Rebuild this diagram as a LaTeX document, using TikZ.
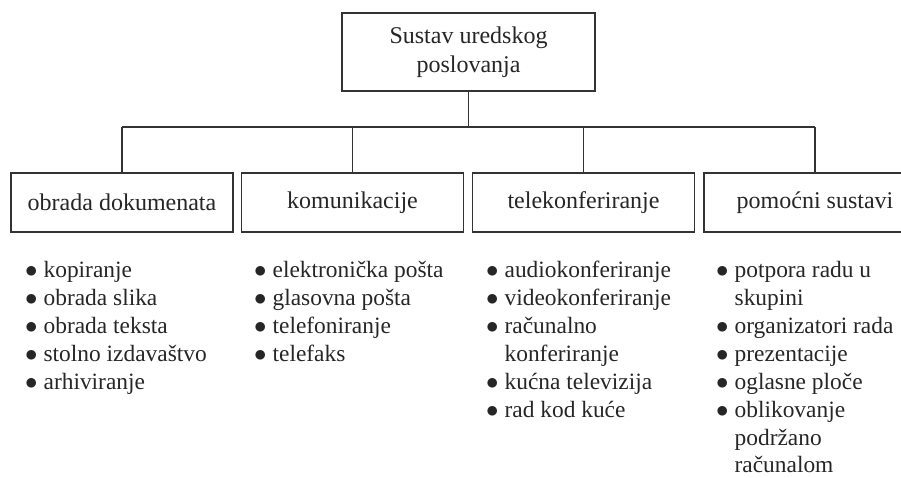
\documentclass[tikz,border=0pt]{standalone}
\usepackage{fontspec}
\setmainfont{Liberation Serif}
\usetikzlibrary{positioning}

\begin{document}
\begin{tikzpicture}[x=1pt,y=-1pt,
  box/.style={draw=black!80, line width=1.4pt, fill=white, text=black!85,
    font=\fontsize{24}{29}\selectfont, align=center, inner sep=0pt},
  branch/.style={box, minimum width=222pt, minimum height=59pt},
  itemlist/.style={anchor=north west, inner sep=0pt, text=black!85,
    font=\fontsize{23.4}{27.9}\selectfont},
  link/.style={draw=black!80, line width=1.4pt}]
\clip (0,0) rectangle (901,477);

% Root
\node[box, minimum width=253pt, minimum height=78pt] (root) at (468.5,52) {Sustav uredskog\\poslovanja};

% Branches
\node[branch] (obrada) at (122,202.5) {obrada dokumenata};
\node[branch] (komun) at (352.5,202.5) {komunikacije};
\node[branch] (telek) at (583.5,202.5) {telekonferiranje};
\node[branch] (pomoc) at (815,202.5) {pomoćni sustavi};

% Connections
\coordinate (bar) at (468.5,127);
\draw[link] (root.south) -- (bar);
\draw[link] (obrada.north |- bar) -- (pomoc.north |- bar);
\foreach \b in {obrada,komun,telek,pomoc}
  \draw[link] (\b.north |- bar) -- (\b.north);

% Lists
\node[itemlist] (obradaL) at (25,257.9) {\begin{tabular}{@{}l@{\hspace{6pt}}l@{}}
$\bullet$ & kopiranje\\
$\bullet$ & obrada slika\\
$\bullet$ & obrada teksta\\
$\bullet$ & stolno izdavaštvo\\
$\bullet$ & arhiviranje
\end{tabular}};
\node[itemlist] (komunL) at (254,257.9) {\begin{tabular}{@{}l@{\hspace{6pt}}l@{}}
$\bullet$ & elektronička pošta\\
$\bullet$ & glasovna pošta\\
$\bullet$ & telefoniranje\\
$\bullet$ & telefaks
\end{tabular}};
\node[itemlist] (telekL) at (486,257.9) {\begin{tabular}{@{}l@{\hspace{6pt}}l@{}}
$\bullet$ & audiokonferiranje\\
$\bullet$ & videokonferiranje\\
$\bullet$ & računalno\\
 & konferiranje\\
$\bullet$ & kućna televizija\\
$\bullet$ & rad kod kuće
\end{tabular}};
\node[itemlist] (pomocL) at (716,257.9) {\begin{tabular}{@{}l@{\hspace{6pt}}l@{}}
$\bullet$ & potpora radu u\\
 & skupini\\
$\bullet$ & organizatori rada\\
$\bullet$ & prezentacije\\
$\bullet$ & oglasne ploče\\
$\bullet$ & oblikovanje\\
 & podržano\\
 & računalom
\end{tabular}};
\end{tikzpicture}
\end{document}
